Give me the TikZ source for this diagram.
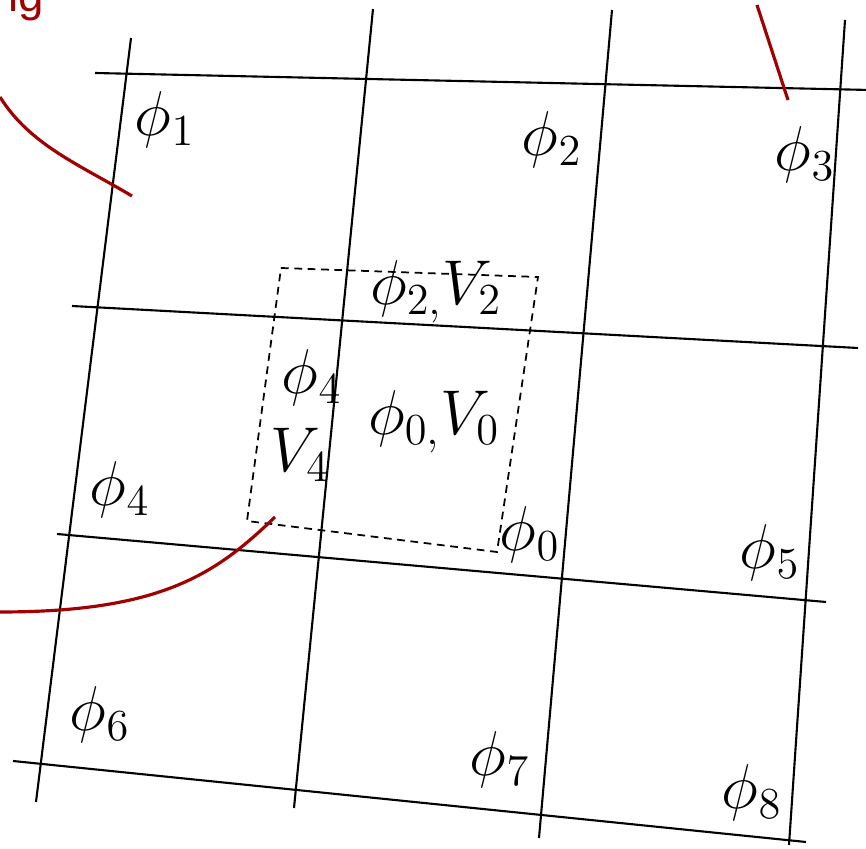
\documentclass[tikz,border=0pt]{standalone}
\usepackage{fontspec}
\usepackage{fix-cm}
\newfontfamily\etiqsans{Liberation Sans}
\usetikzlibrary{positioning, calc}
\definecolor{granate}{HTML}{A00000}
\tikzset{
  rejilla/.style={line width=0.6pt, black},
  celda/.style={line width=0.5pt, black, dash pattern=on 2.2pt off 1.6pt},
  frontera/.style={line width=0.9pt, color=granate},
  campo/.style={inner sep=0pt, font=\fontsize{18}{20}\selectfont},
  rotulo/.style={inner sep=0pt, font=\etiqsans\fontsize{13}{15}\selectfont, text=granate}
}

\begin{document}
\begin{tikzpicture}[x=0.01cm, y=-0.01cm]
  \useasboundingbox (0,0) rectangle (866,849);
  % rejilla
  \draw [rejilla] (95,73) -- (870,90);
  \draw [rejilla] (72,306) -- (858,348);
  \draw [rejilla] (57,534) -- (826,602);
  \draw [rejilla] (13,761) -- (806,842);
  \draw [rejilla] (131,38) -- (36,802);
  \draw [rejilla] (373,9) -- (294,808);
  \draw [rejilla] (612,10) -- (539,838);
  \draw [rejilla] (845,20) -- (789,845);
  % celda de control
  \draw [celda] (281,268) -- (538,277) -- (497,552) -- (247,521) -- cycle;
  % fronteras
  \draw [frontera] (0,97) .. controls (30,145) and (80,165) .. (132,196);
  \draw [frontera] (757,5) -- (788,100);
  \draw [frontera] (0,612) .. controls (160,612) and (215,575) .. (275,517);
  \node (rot) [rotulo, anchor=base west] at (8,12) {ig};
  % valores
  \node (p1) [campo] at (165,120) {$\phi_1$};
  \node (p2) [campo] at (552,140) {$\phi_2$};
  \node (p3) [campo] at (805,155) {$\phi_3$};
  \node (pv2) [campo] at (436,292) {$\phi_{2,}V_2$};
  \node (p4i) [campo] at (312,378) {$\phi_4$};
  \node (v4) [campo] at (300,455) {$V_4$};
  \node (pv0) [campo] at (434,422) {$\phi_{0,}V_0$};
  \node (p4) [campo] at (120,490) {$\phi_4$};
  \node (p0) [campo] at (530,535) {$\phi_0$};
  \node (p5) [campo] at (770,553) {$\phi_5$};
  \node (p6) [campo] at (100,715) {$\phi_6$};
  \node (p7) [campo] at (500,760) {$\phi_7$};
  \node (p8) [campo] at (752,793) {$\phi_8$};
\end{tikzpicture}
\end{document}
